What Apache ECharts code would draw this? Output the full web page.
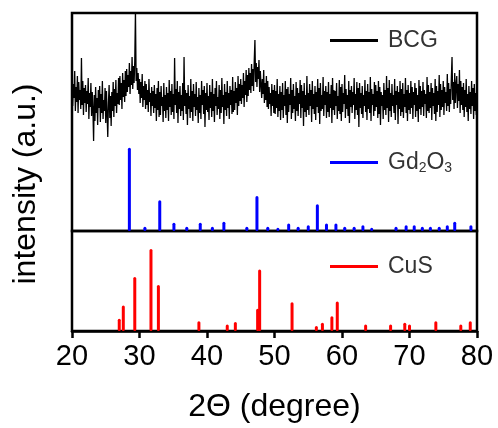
<!DOCTYPE html>
<html><head><meta charset="utf-8">
<script src="https://cdn.jsdelivr.net/npm/echarts@6/dist/echarts.min.js"></script>
<style>html,body{margin:0;padding:0;background:#fff}#c{width:498px;height:428px}</style>
</head><body><div id="c"></div>
<script>
// x-axis ticks (2θ, degree)
const xTicks = [20, 30, 40, 50, 60, 70, 80];
// BCG measured pattern: sampled from 20° every 0.1° (one row = 1°)
const bcgStart = 20, bcgStep = 0.1;
const bcgIntensity = [
152,125,147,133,160,120,144,129,155,118,
149,131,141,122,173,126,150,116,143,128,
146,119,140,127,153,112,138,124,148,115,
139,121,90,136,110,144,118,133,106,141,
123,145,109,137,118,150,112,131,120,143,
108,140,117,94,128,146,113,135,105,139,
120,149,114,142,125,151,118,138,127,153,
126,155,131,148,122,158,134,151,129,160,
135,162,139,156,144,168,137,160,146,174,
142,165,148,170,220,150,163,141,158,137,
152,128,149,133,157,124,145,131,150,122,
147,126,141,119,152,129,138,115,144,125,
140,118,146,123,137,110,143,121,150,114,
139,116,145,125,134,109,148,120,136,113,
144,121,138,110,151,124,140,116,147,119,
137,112,173,126,142,118,150,108,139,122,
145,115,136,120,148,111,174,125,141,117,
138,106,146,122,135,113,152,119,140,110,
147,124,137,115,149,121,134,108,143,118,
136,112,150,126,141,117,145,104,138,121,
148,119,135,111,146,123,139,114,152,120,
137,109,143,125,150,116,134,122,146,112,
141,118,153,124,136,107,147,121,139,115,
150,123,138,112,145,126,141,117,154,119,
140,121,149,128,143,116,155,125,147,130,
152,127,146,133,158,124,150,136,161,129,
156,135,163,141,158,138,167,145,162,140,
170,191,149,168,144,164,152,171,139,160,
158,133,152,137,161,128,148,131,155,124,
150,122,144,127,138,115,147,125,141,118,
146,117,140,123,152,114,137,120,145,111,
139,121,148,113,136,125,150,116,142,108,
144,119,137,126,153,112,141,118,147,122,
135,110,149,120,143,115,138,127,151,113,
146,123,140,105,148,119,136,114,155,121,
138,116,147,125,141,109,150,122,137,117,
145,111,139,124,152,118,143,107,148,120,
136,122,154,115,140,126,145,113,139,119,
149,114,137,123,146,108,153,121,141,116,
140,125,148,112,135,120,151,117,144,110,
147,119,138,127,156,113,142,122,136,115,
150,108,141,124,145,118,139,126,153,112,
137,121,149,116,143,104,148,123,138,117,
145,113,136,125,151,119,140,111,147,122,
139,118,154,110,142,126,137,115,149,120,
146,124,140,113,150,117,144,106,139,125,
136,112,148,121,141,116,155,123,143,109,
151,120,138,114,147,125,136,118,152,111,
140,126,145,107,139,122,150,115,142,119,
148,113,137,124,153,118,141,110,146,121,
138,117,150,123,144,112,139,126,148,114,
143,120,136,109,151,122,145,116,140,124,
149,115,141,127,137,113,154,120,146,118,
139,123,148,111,143,125,138,117,152,110,
145,119,140,126,156,114,147,121,141,124,
150,116,144,128,139,120,157,125,148,119,
142,127,153,174,131,149,122,158,128,146,
155,123,147,130,161,118,150,126,144,121,
148,114,141,124,152,119,137,110,145,122,
139,117,150,125,143,112,147,120,138,116,
133
];
// Gd2O3 reference lines
const gdPos = [28.5,30.8,33.0,35.1,37.0,39.0,40.8,42.5,45.9,47.4,49.0,50.5,52.1,53.5,55.0,56.35,57.7,59.1,60.4,61.8,63.1,64.4,68.0,69.5,70.7,71.9,73.1,74.4,75.6,76.7,79.1];
const gdInt = [100,5,37,10,5,10,5,11,5,42,5,4,9,5,7,32,9,9,5,5,7,4,5,7,7,5,5,5,7,11,7];
// CuS reference lines
const cusPos = [27.0,27.6,29.3,31.7,32.8,38.8,43.0,44.2,47.5,47.8,52.6,56.2,57.1,58.5,59.3,63.5,67.2,69.3,70.0,73.9,77.6,79.0];
const cusInt = [15,31,66,100,56,12,8,11,27,75,35,6,10,18,36,8,8,10,8,12,8,12];

const bcgData = bcgIntensity.map((v, i) => [+(bcgStart + i * bcgStep).toFixed(2), v]);
const gdData = gdPos.map((p, i) => [p, gdInt[i]]);
const cusData = cusPos.map((p, i) => [p, cusInt[i]]);

const FF = 'Liberation Sans';
const X0 = xTicks[0], X1 = xTicks[xTicks.length - 1];
const gridBase = {left: 72, width: 405};
const hiddenX = (g) => ({type: 'value', gridIndex: g, min: X0, max: X1, show: false});
const legendText = {fontSize: 23, color: '#333', fontFamily: FF, padding: [0, 0, 0, 5]};

const chart = echarts.init(document.getElementById('c'), null, {renderer: 'canvas'});
chart.setOption({
  animation: false,
  backgroundColor: '#fff',
  grid: [
    Object.assign({top: 13, height: 218, show: true, borderColor: '#000', borderWidth: 2.5}, gridBase),
    Object.assign({top: 13, height: 218, show: false}, gridBase),
    Object.assign({top: 231, height: 100, show: true, borderColor: '#000', borderWidth: 2.5}, gridBase),
    Object.assign({top: 25, height: 318, show: false}, gridBase)
  ],
  xAxis: [
    hiddenX(0), hiddenX(1),
    {type: 'value', gridIndex: 2, min: X0, max: X1, interval: 10,
     axisLine: {lineStyle: {color: '#000', width: 2.5}},
     axisTick: {show: true, inside: false, length: 7, lineStyle: {color: '#000', width: 2.5}},
     axisLabel: {fontSize: 29, color: '#000', margin: 11, fontFamily: FF},
     splitLine: {show: false},
     name: '2\u0398 (degree)', nameLocation: 'middle', nameGap: 60,
     nameTextStyle: {fontSize: 32, color: '#000', fontFamily: FF}},
    hiddenX(3)
  ],
  yAxis: [
    {type: 'value', gridIndex: 0, min: 0, max: 218, show: false},
    {type: 'value', gridIndex: 1, min: 0, max: 262, show: false},
    {type: 'value', gridIndex: 2, min: 0, max: 122, show: false},
    {type: 'value', gridIndex: 3, min: 0, max: 1,
     axisLine: {show: false}, axisTick: {show: false}, axisLabel: {show: false}, splitLine: {show: false},
     name: 'intensity (a.u.)', nameLocation: 'middle', nameGap: 30,
     nameTextStyle: {fontSize: 32, color: '#000', fontFamily: FF}}
  ],
  legend: [
    {data: ['BCG'], left: 330, top: 29, padding: 0, icon: 'rect', itemWidth: 48, itemHeight: 3, textStyle: legendText},
    {data: ['Gd2O3'], left: 330, top: 151, padding: 0, icon: 'rect', itemWidth: 48, itemHeight: 3,
     formatter: () => '{n|Gd}{s|2}{n|O}{s|3}',
     textStyle: {fontSize: 23, color: '#333', fontFamily: FF, padding: [0, 0, 0, 5],
       rich: {n: {fontSize: 23, color: '#333', fontFamily: FF},
              s: {fontSize: 14, color: '#333', fontFamily: FF, padding: [12, 0, 0, 0]}}}},
    {data: ['CuS'], left: 330, top: 255, padding: 0, icon: 'rect', itemWidth: 48, itemHeight: 3, textStyle: legendText}
  ],
  series: [
    {name: 'BCG', type: 'line', xAxisIndex: 0, yAxisIndex: 0, data: bcgData, showSymbol: false, symbol: 'none',
     lineStyle: {color: '#000', width: 1.3}, itemStyle: {color: '#000'}},
    {name: 'Gd2O3', type: 'bar', xAxisIndex: 1, yAxisIndex: 1, data: gdData, barWidth: 3,
     itemStyle: {color: '#0000ff', borderRadius: 1.5}},
    {name: 'CuS', type: 'bar', xAxisIndex: 2, yAxisIndex: 2, data: cusData, barWidth: 3,
     itemStyle: {color: '#ff0000', borderRadius: 1.5}}
  ]
});
</script></body></html>
